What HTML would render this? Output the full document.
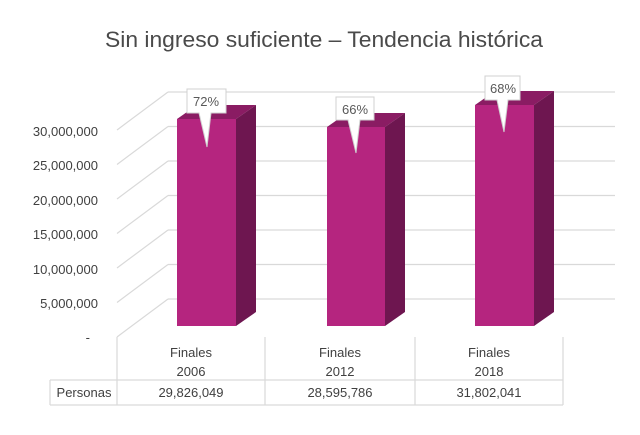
<!DOCTYPE html>
<html><head><meta charset="utf-8"><style>
body{margin:0;background:#fff;}
svg{display:block;font-family:"Liberation Sans",sans-serif;}
</style></head><body>
<svg width="640" height="435" viewBox="0 0 640 435">
<text x="105" y="47" font-size="22" fill="#4a4a4a" textLength="438" lengthAdjust="spacingAndGlyphs">Sin ingreso suficiente – Tendencia histórica</text>
<g stroke="#d9d9d9" stroke-width="1.2" fill="none">
<line x1="168" y1="92" x2="615" y2="92"/><line x1="117" y1="130" x2="168" y2="92"/>
<line x1="168" y1="126.5" x2="615" y2="126.5"/><line x1="117" y1="164.5" x2="168" y2="126.5"/>
<line x1="168" y1="161" x2="615" y2="161"/><line x1="117" y1="199" x2="168" y2="161"/>
<line x1="168" y1="195.5" x2="615" y2="195.5"/><line x1="117" y1="233.5" x2="168" y2="195.5"/>
<line x1="168" y1="230" x2="615" y2="230"/><line x1="117" y1="268" x2="168" y2="230"/>
<line x1="168" y1="264.5" x2="615" y2="264.5"/><line x1="117" y1="302.5" x2="168" y2="264.5"/>
<line x1="168" y1="299" x2="615" y2="299"/><line x1="117" y1="337" x2="168" y2="299"/>
<line x1="117" y1="337" x2="117" y2="405"/><line x1="265" y1="337" x2="265" y2="405"/>
<line x1="415" y1="337" x2="415" y2="405"/><line x1="563" y1="337" x2="563" y2="405"/>
<line x1="50" y1="380" x2="563" y2="380"/><line x1="50" y1="405" x2="563" y2="405"/>
<line x1="50" y1="380" x2="50" y2="405"/>
</g>
<g font-size="13" fill="#404040" text-anchor="end">
<text x="98" y="136">30,000,000</text><text x="98" y="170">25,000,000</text>
<text x="98" y="205">20,000,000</text><text x="98" y="239">15,000,000</text>
<text x="98" y="274">10,000,000</text><text x="98" y="308">5,000,000</text>
<text x="90" y="342">-</text>
</g>
<g>
<polygon points="177,119 197,105 256,105 236,119" fill="#8a1c63"/>
<polygon points="236,119 256,105 256,312 236,326" fill="#6e1650"/>
<rect x="177" y="119" width="59" height="207" fill="#b5257f"/>
<polygon points="327,127 347,113 405,113 385,127" fill="#8a1c63"/>
<polygon points="385,127 405,113 405,312 385,326" fill="#6e1650"/>
<rect x="327" y="127" width="58" height="199" fill="#b5257f"/>
<polygon points="475,105 495,91 554,91 534,105" fill="#8a1c63"/>
<polygon points="534,105 554,91 554,312 534,326" fill="#6e1650"/>
<rect x="475" y="105" width="59" height="221" fill="#b5257f"/>
</g>
<g fill="#fff" stroke="#d0d0d0" stroke-width="1">
<path d="M187,89 H226 V113 H211 L207,147 L199,113 H187 Z"/>
<path d="M336,97 H374 V120 H360 L356,153 L348,120 H336 Z"/>
<path d="M485,76 H520 V100 H508 L504,132 L497,100 H485 Z"/>
</g>
<g font-size="13" fill="#595959" text-anchor="middle">
<text x="206" y="106">72%</text><text x="355" y="114">66%</text><text x="503" y="93">68%</text>
</g>
<g font-size="13" fill="#404040" text-anchor="middle">
<text x="191" y="357">Finales</text><text x="191" y="376">2006</text>
<text x="340" y="357">Finales</text><text x="340" y="376">2012</text>
<text x="489" y="357">Finales</text><text x="489" y="376">2018</text>
<text x="84" y="397">Personas</text>
<text x="191" y="397">29,826,049</text><text x="340" y="397">28,595,786</text><text x="489" y="397">31,802,041</text>
</g>
</svg>
</body></html>
